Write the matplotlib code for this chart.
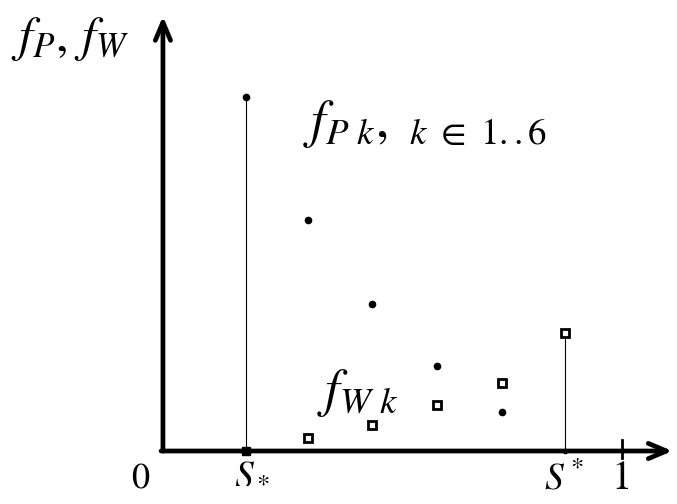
import matplotlib
matplotlib.use("Agg")
import matplotlib.pyplot as plt

plt.rcParams['mathtext.fontset'] = 'stix'
plt.rcParams['font.family'] = ['STIXGeneral', 'DejaVu Serif']

# data
s_vals = [0.181, 0.316, 0.455, 0.597, 0.739, 0.876]
fP = [1.00, 0.652, 0.415, 0.240, 0.110, 0.0]
fW = [0.0, 0.037, 0.073, 0.130, 0.192, 0.333]
x_labels = ['$0$', '$S_*$', '$S^*$', '$1$']

fig = plt.figure(figsize=(6.77, 5.04), dpi=100)
ax = fig.add_axes([0, 0, 1, 1])
ax.set_xlim(-0.355, 1.12)
ax.set_ylim(-0.1497, 1.274)
ax.axis('off')

# axes with arrows
ax.annotate('', xy=(0, 1.228), xytext=(0, 0),
            arrowprops=dict(arrowstyle='->,head_length=1.3,head_width=0.55', lw=3.4, color='black',
                            shrinkA=0, shrinkB=0))
ax.annotate('', xy=(1.11, 0), xytext=(-0.004, 0),
            arrowprops=dict(arrowstyle='->,head_length=1.3,head_width=0.55', lw=3.4, color='black',
                            shrinkA=0, shrinkB=0))
# tick at 1
ax.plot([1, 1], [-0.02, 0.03], color='black', lw=2)

# vertical lines at S_* and S^*
ax.plot([s_vals[0], s_vals[0]], [0, fP[0]], color='black', lw=0.8)
ax.plot([s_vals[-1], s_vals[-1]], [0, fW[-1]], color='black', lw=0.8)

# points
ax.plot(s_vals[:-1], fP[:-1], 'o', color='black', ms=4.5)
ax.plot(s_vals[-1], fP[-1], 'o', color='black', ms=3)
ax.plot(s_vals[1:], fW[1:], 's', mfc='white', mec='black', mew=2, ms=5.5)
ax.plot(s_vals[0], fW[0], 's', color='black', ms=6)

# labels
ax.text(-0.33, 1.165, r'$f_P,\,f_W$', fontsize=36, ha='left', va='center')
ax.text(0.305, 0.925, r'$f_{P\ k},\ _{k\ \in\ 1..6}$', fontsize=38, ha='left', va='center')
ax.text(0.335, 0.165, r'$f_{W\ k}$', fontsize=38, ha='left', va='center')

ax.text(-0.048, -0.1045, x_labels[0], fontsize=26, ha='center', va='baseline')
ax.text(0.194, -0.088, x_labels[1], fontsize=27, ha='center', va='baseline')
ax.text(0.874, -0.110, x_labels[2], fontsize=27, ha='center', va='baseline')
ax.text(0.996, -0.107, x_labels[3], fontsize=29, ha='center', va='baseline')

fig.savefig('out.png', dpi=100)
